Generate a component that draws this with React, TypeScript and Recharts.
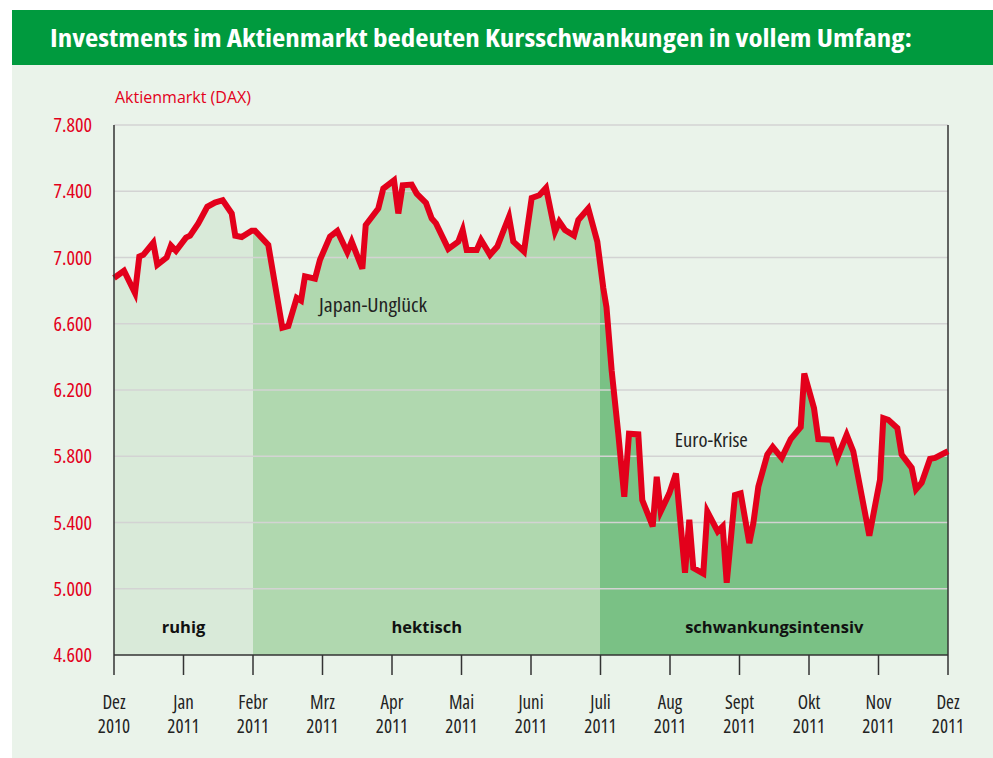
import { Area, ComposedChart, Line, ReferenceArea, ReferenceDot, ReferenceLine, XAxis, YAxis } from "recharts";

// Zeitachse in Monaten ab Dez 2010 (0 = Dez 2010, 12 = Dez 2011)
const zeit = [
  0, 0.144, 0.302, 0.364, 0.422, 0.565, 0.623, 0.758, 0.82, 0.892, 1.036, 1.094, 1.213, 1.342, 1.453, 1.564, 1.694,
  1.745, 1.837, 1.981, 2.029, 2.22, 2.422, 2.508, 2.629, 2.691, 2.748, 2.892, 2.964, 3.108, 3.213, 3.357, 3.42, 3.573,
  3.622, 3.803, 3.875, 4.029, 4.091, 4.154, 4.283, 4.355, 4.489, 4.571, 4.633, 4.81, 4.954, 5.017, 5.075, 5.219, 5.281,
  5.41, 5.515, 5.683, 5.745, 5.899, 6.01, 6.119, 6.216, 6.345, 6.407, 6.489, 6.619, 6.681, 6.824, 6.954, 7.04, 7.086,
  7.161, 7.256, 7.342, 7.41, 7.544, 7.601, 7.751, 7.809, 7.866, 7.99, 8.086, 8.216, 8.278, 8.335, 8.479, 8.537, 8.686,
  8.758, 8.816, 8.935, 9.017, 9.141, 9.199, 9.271, 9.4, 9.478, 9.607, 9.737, 9.881, 9.932, 10.072, 10.134, 10.327,
  10.407, 10.542, 10.637, 10.868, 11.022, 11.069, 11.141, 11.271, 11.333, 11.478, 11.54, 11.621, 11.741, 11.813, 12,
];

// DAX-Stände
const dax = [
  6876, 6920, 6785, 7006, 7016, 7090, 6956, 7000, 7072, 7040, 7120, 7132, 7206, 7306, 7332, 7346, 7266,
  7132, 7124, 7162, 7162, 7076, 6576, 6586, 6756, 6740, 6886, 6872, 6986, 7126, 7160, 7032, 7096, 6932,
  7196, 7296, 7416, 7466, 7266, 7436, 7440, 7386, 7330, 7236, 7206, 7052, 7096, 7166, 7046, 7046, 7106,
  7016, 7066, 7246, 7096, 7036, 7360, 7376, 7420, 7156, 7216, 7166, 7132, 7226, 7296, 7096, 6816, 6700,
  6316, 5936, 5556, 5936, 5932, 5536, 5376, 5676, 5466, 5576, 5696, 5096, 5416, 5126, 5092, 5466, 5346,
  5376, 5036, 5566, 5576, 5276, 5396, 5616, 5810, 5856, 5790, 5904, 5976, 6300, 6090, 5904, 5900,
  5790, 5930, 5830, 5320, 5660, 6030, 6020, 5970, 5810, 5730, 5600, 5640, 5784, 5790, 5830,
];

const monate = ["Dez", "Jan", "Febr", "Mrz", "Apr", "Mai", "Juni", "Juli", "Aug", "Sept", "Okt", "Nov", "Dez"];
const jahre = ["2010", "2011", "2011", "2011", "2011", "2011", "2011", "2011", "2011", "2011", "2011", "2011", "2011"];
const yTicks = [4600, 5000, 5400, 5800, 6200, 6600, 7000, 7400, 7800];

const phasen = [
  { name: "ruhig", von: 0, bis: 2, farbe: "#d9ead9" },
  { name: "hektisch", von: 2, bis: 7, farbe: "#b0d8af" },
  { name: "schwankungsintensiv", von: 7, bis: 12, farbe: "#7ac185" },
];

const data = zeit.map((t, i) => ({ t, v: dax[i] }));

const FONT = "'Open Sans', 'Noto Sans', sans-serif";
const ROT = "#e3001b";

const fmt = (v: number) => {
  const s = String(v);
  return s.slice(0, s.length - 3) + "." + s.slice(-3);
};

function MonatTick(props: any) {
  const { x, y, payload } = props;
  const i = Math.round(payload.value);
  return (
    <g>
      <text x={x} y={y + 32} textAnchor="middle" fontSize={19} fill="#222">
        {monate[i]}
      </text>
      <text x={x} y={y + 56} textAnchor="middle" fontSize={19} fill="#222">
        {jahre[i]}
      </text>
    </g>
  );
}

function PhasenLabel(props: any) {
  const { viewBox, value } = props;
  const cx = viewBox.x + viewBox.width / 2;
  const cy = viewBox.y + viewBox.height / 2;
  return (
    <text
      x={cx}
      y={cy + 6}
      textAnchor="middle"
      fontSize={16.5}
      fontWeight="bold"
      fill="#111"
      style={{ fontStretch: "normal" }}
    >
      {value}
    </text>
  );
}

function Notiz(props: any) {
  const { viewBox, value, breite } = props;
  return (
    <text
      x={viewBox.x}
      y={viewBox.y + 7}
      fontSize={19.5}
      fill="#222"
      textLength={breite}
      lengthAdjust="spacingAndGlyphs"
    >
      {value}
    </text>
  );
}

export default function App() {
  return (
    <div
      style={{
        position: "absolute",
        left: 0,
        top: 0,
        width: 993,
        height: 758,
        background: "#fff",
        fontFamily: FONT,
        fontStretch: "condensed",
      }}
    >
      <div style={{ position: "absolute", left: 12, top: 65, width: 981, height: 693, background: "#eaf3ea" }} />
      <div style={{ position: "absolute", left: 12, top: 10, width: 981, height: 55, background: "#009a3e" }}>
        <svg width={981} height={55}>
          <text
            x={38}
            y={37}
            fill="#fff"
            fontSize={25}
            fontWeight="bold"
            textLength={862}
            lengthAdjust="spacingAndGlyphs"
          >
            Investments im Aktienmarkt bedeuten Kursschwankungen in vollem Umfang:
          </text>
        </svg>
      </div>
      <div
        style={{
          position: "absolute",
          left: 115,
          top: 86,
          color: ROT,
          fontSize: 16,
          fontStretch: "normal",
          whiteSpace: "nowrap",
        }}
      >
        Aktienmarkt (DAX)
      </div>
      <div style={{ position: "absolute", left: 0, top: 0 }}>
        <ComposedChart width={993} height={758} data={data} margin={{ top: 125, right: 45, left: 34, bottom: 23 }}>
          <defs>
            <linearGradient id="zonen" x1="0" y1="0" x2="1" y2="0">
              {phasen.map((p) => [
                <stop key={p.name + "a"} offset={p.von / 12} stopColor={p.farbe} />,
                <stop key={p.name + "b"} offset={p.bis / 12} stopColor={p.farbe} />,
              ])}
            </linearGradient>
          </defs>
          <XAxis
            dataKey="t"
            type="number"
            domain={[0, 12]}
            ticks={[0, 1, 2, 3, 4, 5, 6, 7, 8, 9, 10, 11, 12]}
            tick={<MonatTick />}
            tickSize={20}
            height={80}
            stroke="#333"
            axisLine={{ stroke: "#333", strokeWidth: 1.5 }}
            tickLine={{ stroke: "#333", strokeWidth: 1.5 }}
          />
          <YAxis
            domain={[4600, 7800]}
            ticks={yTicks}
            width={80}
            tickFormatter={fmt}
            tickLine={false}
            tickSize={0}
            tickMargin={22}
            axisLine={{ stroke: "#333", strokeWidth: 1.5 }}
            tick={{ fill: ROT, fontSize: 20 }}
          />
          <Area
            type="linear"
            dataKey="v"
            stroke="none"
            fill="url(#zonen)"
            fillOpacity={1}
            baseValue={4600}
            isAnimationActive={false}
          />
          {yTicks.slice(1).map((v) => (
            <ReferenceLine key={v} y={v} stroke="#d3d3d3" strokeWidth={1.5} />
          ))}
          {phasen.map((p) => (
            <ReferenceArea
              key={p.name}
              x1={p.von}
              x2={p.bis}
              y1={4600}
              y2={4940}
              fillOpacity={0}
              strokeOpacity={0}
              label={<PhasenLabel value={p.name} />}
            />
          ))}
          <ReferenceLine x={12} stroke="#333" strokeWidth={1.5} />
          <ReferenceDot
            x={2.95}
            y={6713}
            r={0}
            fillOpacity={0}
            strokeOpacity={0}
            label={<Notiz value="Japan-Unglück" breite={108} />}
          />
          <ReferenceDot
            x={8.07}
            y={5898}
            r={0}
            fillOpacity={0}
            strokeOpacity={0}
            label={<Notiz value="Euro-Krise" breite={73} />}
          />
          <Line
            type="linear"
            dataKey="v"
            stroke={ROT}
            strokeWidth={6}
            dot={false}
            strokeLinejoin="miter"
            isAnimationActive={false}
          />
        </ComposedChart>
      </div>
    </div>
  );
}
